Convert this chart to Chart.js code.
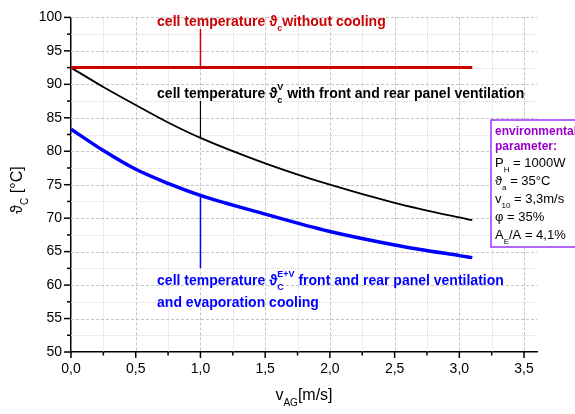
<!DOCTYPE html>
<html>
<head>
<meta charset="utf-8">
<script src="https://cdn.jsdelivr.net/npm/chart.js@4"></script>
<style>
  html, body { margin: 0; padding: 0; background: #fff; }
  #wrap { width: 575px; height: 414px; position: relative; }
</style>
</head>
<body>
<div id="wrap"><canvas id="chart"></canvas></div>
<script>
// air gap velocity v_AG [m/s]
const vAG = [0, 0.25, 0.5, 0.75, 1.0, 1.5, 2.0, 2.5, 3.0, 3.1]
// cell temperatures [°C]
const tempNoCooling = [92.5, 92.5, 92.5, 92.5, 92.5, 92.5, 92.5, 92.5, 92.5, 92.5]
const tempVentilation = [92.5, 89.6, 86.9, 84.3, 82.0, 78.2, 75.0, 72.3, 70.1, 69.7]
const tempVentEvap = [83.3, 80.1, 77.3, 75.2, 73.4, 70.6, 68.0, 66.0, 64.4, 64.1]

const xTickValues = [0, 0.5, 1.0, 1.5, 2.0, 2.5, 3.0, 3.5]
const yTickValues = [50, 55, 60, 65, 70, 75, 80, 85, 90, 95, 100]
const xMinorValues = [0.25, 0.75, 1.25, 1.75, 2.25, 2.75, 3.25]
const yMinorValues = [52.5, 57.5, 62.5, 67.5, 72.5, 77.5, 82.5, 87.5, 92.5, 97.5]

const envParams = [
  [['P'], ['H', 'sub'], [' = 1000W']],
  [['ϑ'], ['a', 'sub'], [' = 35°C']],
  [['v'], ['10', 'sub'], [' = 3,3m/s']],
  [['φ = 35%']],
  [['A'], ['E', 'sub'], ['/A = 4,1%']],
]

const FONT = '"Liberation Sans", Arial, sans-serif'
const toPoints = (ys) => vAG.map((x, i) => ({ x: x, y: ys[i] }))

// text with sub / superscripts, returns end x
function richText(ctx, x, y, parts, size, weight, color) {
  ctx.fillStyle = color
  ctx.textBaseline = 'alphabetic'
  ctx.textAlign = 'left'
  let cx = x
  for (const [t, kind] of parts) {
    if (kind === 'sub' || kind === 'sup') {
      ctx.font = `${weight} ${Math.round(size * 0.65)}px ${FONT}`
      const dy = kind === 'sub' ? size * 0.35 : -size * 0.55
      ctx.fillText(t, cx, y + dy)
      cx += ctx.measureText(t).width
    } else if (kind === 'subsup') {
      // t = [sub, sup]
      ctx.font = `${weight} ${Math.round(size * 0.65)}px ${FONT}`
      ctx.fillText(t[0], cx, y + size * 0.35)
      ctx.fillText(t[1], cx, y - size * 0.55)
      cx += Math.max(ctx.measureText(t[0]).width, ctx.measureText(t[1]).width)
    } else {
      ctx.font = `${weight} ${size}px ${FONT}`
      ctx.fillText(t, cx, y)
      cx += ctx.measureText(t).width
    }
  }
  return cx
}

const overlay = {
  id: 'overlay',
  beforeDatasetsDraw(chart) {
    const { ctx, chartArea: a, scales: { x, y } } = chart
    ctx.save()
    ctx.lineWidth = 1
    // minor grid, dotted
    ctx.strokeStyle = '#d9d9d9'
    ctx.setLineDash([1, 1])
    for (const v of xMinorValues) {
      const px = Math.round(x.getPixelForValue(v)) + 0.5
      ctx.beginPath(); ctx.moveTo(px, a.top); ctx.lineTo(px, a.bottom); ctx.stroke()
    }
    for (const v of yMinorValues) {
      const py = Math.round(y.getPixelForValue(v)) + 0.5
      ctx.beginPath(); ctx.moveTo(a.left, py); ctx.lineTo(a.right, py); ctx.stroke()
    }
    // major grid, dashed
    ctx.strokeStyle = '#c4c4c4'
    ctx.setLineDash([3, 2])
    for (const v of xTickValues.slice(1)) {
      const px = Math.round(x.getPixelForValue(v)) + 0.5
      ctx.beginPath(); ctx.moveTo(px, a.top); ctx.lineTo(px, a.bottom); ctx.stroke()
    }
    for (const v of yTickValues.slice(1)) {
      const py = Math.round(y.getPixelForValue(v)) + 0.5
      ctx.beginPath(); ctx.moveTo(a.left, py); ctx.lineTo(a.right, py); ctx.stroke()
    }
    ctx.restore()
  },
  afterDraw(chart) {
    const { ctx, chartArea: a, scales: { x, y } } = chart
    ctx.save()
    // tick marks
    ctx.strokeStyle = '#000'
    ctx.lineWidth = 1.5
    for (const v of xTickValues) {
      const px = x.getPixelForValue(v)
      ctx.beginPath(); ctx.moveTo(px, a.bottom); ctx.lineTo(px, a.bottom + 6); ctx.stroke()
    }
    for (const v of xMinorValues) {
      const px = x.getPixelForValue(v)
      ctx.beginPath(); ctx.moveTo(px, a.bottom); ctx.lineTo(px, a.bottom + 3.5); ctx.stroke()
    }
    for (const v of yTickValues) {
      const py = y.getPixelForValue(v)
      ctx.beginPath(); ctx.moveTo(a.left, py); ctx.lineTo(a.left - 7, py); ctx.stroke()
    }
    for (const v of yMinorValues) {
      const py = y.getPixelForValue(v)
      ctx.beginPath(); ctx.moveTo(a.left, py); ctx.lineTo(a.left - 4, py); ctx.stroke()
    }

    // axis titles
    const xParts = [['v'], ['AG', 'sub'], ['[m/s]']]
    ctx.font = `16px ${FONT}`
    let w = ctx.measureText('v[m/s]').width
    ctx.font = `10px ${FONT}`
    w += ctx.measureText('AG').width
    richText(ctx, (a.left + a.right) / 2 - w / 2, 400, xParts, 16, 'normal', '#000')

    ctx.save()
    ctx.translate(22, 190)
    ctx.rotate(-Math.PI / 2)
    ctx.font = `16px ${FONT}`
    w = ctx.measureText('ϑ [°C]').width
    ctx.font = `10px ${FONT}`
    w += ctx.measureText('C').width
    richText(ctx, -w / 2, 0, [['ϑ'], ['C', 'sub'], [' [°C]']], 16, 'normal', '#000')
    ctx.restore()

    // curve labels with leader lines at v_AG = 1.0
    const lx = x.getPixelForValue(0.665)
    const leadX = x.getPixelForValue(1.0)
    const leader = (color, y0, y1, wdt) => {
      ctx.strokeStyle = color
      ctx.lineWidth = wdt
      ctx.beginPath(); ctx.moveTo(leadX, y0); ctx.lineTo(leadX, y1); ctx.stroke()
    }
    const red = '#cc0000'
    richText(ctx, lx, 26, [['cell temperature ϑ'], ['c', 'sub'], ['without cooling']], 14, 'bold', red)
    leader(red, 29, y.getPixelForValue(tempNoCooling[4]), 1.5)

    richText(ctx, lx, 98, [['cell temperature ϑ'], [['c', 'V'], 'subsup'], [' with front and rear panel ventilation']], 14, 'bold', '#000')
    leader('#000', 101, y.getPixelForValue(tempVentilation[4]), 1.2)

    const blue = '#0000ff'
    richText(ctx, lx, 285, [['cell temperature ϑ'], [['C', 'E+V'], 'subsup'], [' front and rear panel ventilation']], 14, 'bold', blue)
    richText(ctx, lx, 307, [['and evaporation cooling']], 14, 'bold', blue)
    leader(blue, y.getPixelForValue(tempVentEvap[4]), 268, 1.5)

    // environmental parameter box
    ctx.strokeStyle = '#9933ff'
    ctx.lineWidth = 1.5
    ctx.fillStyle = '#fff'
    ctx.fillRect(491, 120, 90, 127)
    ctx.strokeRect(491, 120, 90, 127)
    ctx.font = `bold 12px ${FONT}`
    ctx.fillStyle = '#9900cc'
    ctx.fillText('environmental', 495, 135)
    ctx.fillText('parameter:', 495, 150)
    let by = 167
    for (const line of envParams) {
      richText(ctx, 495, by, line, 13, 'normal', '#000')
      by += 18
    }
    ctx.restore()
  },
}

new Chart(document.getElementById('chart'), {
  type: 'line',
  data: {
    datasets: [
      {
        label: 'without cooling',
        data: toPoints(tempNoCooling),
        borderColor: '#cc0000',
        borderWidth: 3,
      },
      {
        label: 'front and rear panel ventilation',
        data: toPoints(tempVentilation),
        borderColor: '#000000',
        borderWidth: 1.8,
        cubicInterpolationMode: 'monotone',
      },
      {
        label: 'ventilation and evaporation cooling',
        data: toPoints(tempVentEvap),
        borderColor: '#0000ff',
        borderWidth: 3.5,
        cubicInterpolationMode: 'monotone',
      },
    ],
  },
  options: {
    responsive: true,
    maintainAspectRatio: false,
    animation: false,
    pointStyle: false,
    layout: { padding: { top: 11, right: 38, left: 0, bottom: 0 } },
    plugins: { legend: false, tooltip: { enabled: false } },
    scales: {
      x: {
        type: 'linear',
        min: 0,
        max: 3.6,
        afterBuildTicks: (s) => { s.ticks = xTickValues.map((v) => ({ value: v })) },
        afterFit: (s) => { s.height = 62 },
        grid: { display: false, drawTicks: false },
        border: { display: true, color: '#000', width: 1.5 },
        ticks: {
          padding: 9,
          color: '#000',
          font: { family: FONT, size: 14 },
          maxRotation: 0,
          autoSkip: false,
          callback: (v) => v.toFixed(1).replace('.', ','),
        },
      },
      y: {
        min: 50,
        max: 100,
        afterBuildTicks: (s) => { s.ticks = yTickValues.map((v) => ({ value: v })) },
        afterFit: (s) => { s.width = 71 },
        grid: { display: false, drawTicks: false },
        border: { display: true, color: '#000', width: 1.5 },
        ticks: {
          padding: 9,
          color: '#000',
          font: { family: FONT, size: 14 },
          autoSkip: false,
        },
      },
    },
  },
  plugins: [overlay],
})
</script>
</body>
</html>
